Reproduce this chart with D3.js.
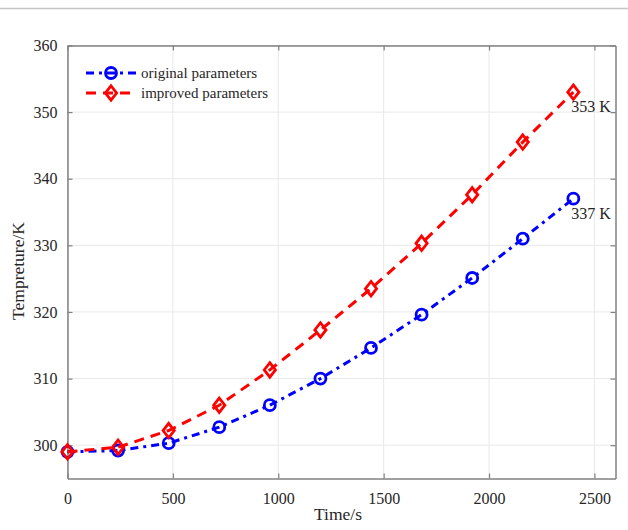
<!DOCTYPE html>
<html>
<head>
<meta charset="utf-8">
<script src="https://cdn.jsdelivr.net/npm/d3@7"></script>
<style>
  html, body { margin: 0; padding: 0; background: #fff; }
  svg { display: block; }
  text { font-family: "Liberation Serif", "Times New Roman", serif; fill: #262626; }
</style>
</head>
<body>
<svg id="chart" width="628" height="530"></svg>
<script>
// Sampling times (s)
const times = [0, 240, 480, 720, 960, 1200, 1440, 1680, 1920, 2160, 2400];
// Temperature (K) for each parameter set
const originalTemps = [299.0, 299.2, 300.3, 302.7, 306.0, 310.0, 314.6, 319.6, 325.1, 331.0, 337.0];
const improvedTemps = [299.0, 299.7, 302.2, 306.0, 311.3, 317.3, 323.5, 330.3, 337.6, 345.5, 353.0];
const seriesNames = ["original parameters", "improved parameters"];
const xTicks = [0, 500, 1000, 1500, 2000, 2500];
const yTicks = [300, 310, 320, 330, 340, 350, 360];
const endLabels = ["337 K", "353 K"];

const svg = d3.select("#chart");
const W = 628, H = 530;
const L = 67.5, R = 615.5, T = 45.5, B = 478.5;

const x = d3.scaleLinear().domain([0, 2600]).range([L, R]);
const y = d3.scaleLinear().domain([295, 360]).range([B, T]);

// thin rule across the top of the figure
svg.append("line").attr("x1", 0).attr("x2", W).attr("y1", 8.5).attr("y2", 8.5)
  .attr("stroke", "#c4c4c4").attr("stroke-width", 1.5);

// grid
const grid = svg.append("g");
grid.selectAll(".gx").data(xTicks).join("line")
  .attr("x1", d => x(d)).attr("x2", d => x(d)).attr("y1", T).attr("y2", B)
  .attr("stroke", "#e8e8e8").attr("stroke-width", 1);
grid.selectAll(".gy").data(yTicks).join("line")
  .attr("x1", L).attr("x2", R).attr("y1", d => y(d)).attr("y2", d => y(d))
  .attr("stroke", "#e8e8e8").attr("stroke-width", 1);

// axes with inward ticks on all four sides
const axisColor = "#808080";
const tl = 5;
const fmt = d3.format("d");
const axB = svg.append("g").attr("transform", `translate(0,${B})`)
  .call(d3.axisBottom(x).tickValues(xTicks).tickFormat(fmt).tickSizeInner(-tl).tickSizeOuter(0));
const axT = svg.append("g").attr("transform", `translate(0,${T})`)
  .call(d3.axisTop(x).tickValues(xTicks).tickSizeInner(-tl).tickSizeOuter(0).tickFormat(""));
const axL = svg.append("g").attr("transform", `translate(${L},0)`)
  .call(d3.axisLeft(y).tickValues(yTicks).tickFormat(fmt).tickSizeInner(-tl).tickSizeOuter(0).tickPadding(10));
const axR = svg.append("g").attr("transform", `translate(${R},0)`)
  .call(d3.axisRight(y).tickValues(yTicks).tickSizeInner(-tl).tickSizeOuter(0).tickFormat(""));
[axB, axT, axL, axR].forEach(a => {
  a.select(".domain").attr("stroke", axisColor).attr("stroke-width", 1.5);
  a.selectAll(".tick line").attr("stroke", axisColor).attr("stroke-width", 1.2);
  a.selectAll(".tick text").attr("font-family", "Liberation Serif, Times New Roman, serif")
    .attr("font-size", 16).attr("fill", "#262626");
});
axB.selectAll(".tick text").attr("y", 14).attr("dy", "0.71em");

// axis titles
svg.append("text").attr("x", 338).attr("y", 520).attr("text-anchor", "middle")
  .attr("font-size", 17.5).text("Time/s");
svg.append("text").attr("transform", "translate(24,271) rotate(-90)")
  .attr("text-anchor", "middle").attr("font-size", 17.5).text("Tempreture/K");

// series
const series = [
  { name: seriesNames[0], values: originalTemps, color: "#0000ff", dash: "8,5,3,5", marker: "circle", label: endLabels[0] },
  { name: seriesNames[1], values: improvedTemps, color: "#ff0000", dash: "10,7", marker: "diamond", label: endLabels[1] }
];

const line = d3.line().x(d => x(d[0])).y(d => y(d[1]));

function drawMarker(g, kind, cx, cy, color) {
  if (kind === "circle") {
    g.append("circle").attr("cx", cx).attr("cy", cy).attr("r", 5.5)
      .attr("fill", "none").attr("stroke", color).attr("stroke-width", 2.8);
  } else {
    g.append("path")
      .attr("d", `M${cx},${cy - 7.2}L${cx + 5.6},${cy}L${cx},${cy + 7.2}L${cx - 5.6},${cy}Z`)
      .attr("fill", "none").attr("stroke", color).attr("stroke-width", 2.8);
  }
}

series.forEach(s => {
  const pts = times.map((t, i) => [t, s.values[i]]);
  const g = svg.append("g");
  g.append("path").datum(pts).attr("d", line)
    .attr("fill", "none").attr("stroke", s.color).attr("stroke-width", 3)
    .attr("stroke-dasharray", s.dash);
  pts.forEach(p => drawMarker(g, s.marker, x(p[0]), y(p[1]), s.color));
  const last = pts[pts.length - 1];
  svg.append("text").attr("x", x(last[0]) - 2)
    .attr("y", y(last[1]) + 20).attr("font-size", 16).text(s.label);
});

// legend
const lg = svg.append("g");
series.forEach((s, i) => {
  const ly = 73 + i * 20;
  lg.append("line").attr("x1", 86).attr("x2", 137).attr("y1", ly).attr("y2", ly)
    .attr("stroke", s.color).attr("stroke-width", 3).attr("stroke-dasharray", s.dash);
  drawMarker(lg, s.marker, 111, ly, s.color);
  lg.append("text").attr("x", 141).attr("y", ly + 5).attr("font-size", 15).text(s.name);
});
</script>
</body>
</html>
